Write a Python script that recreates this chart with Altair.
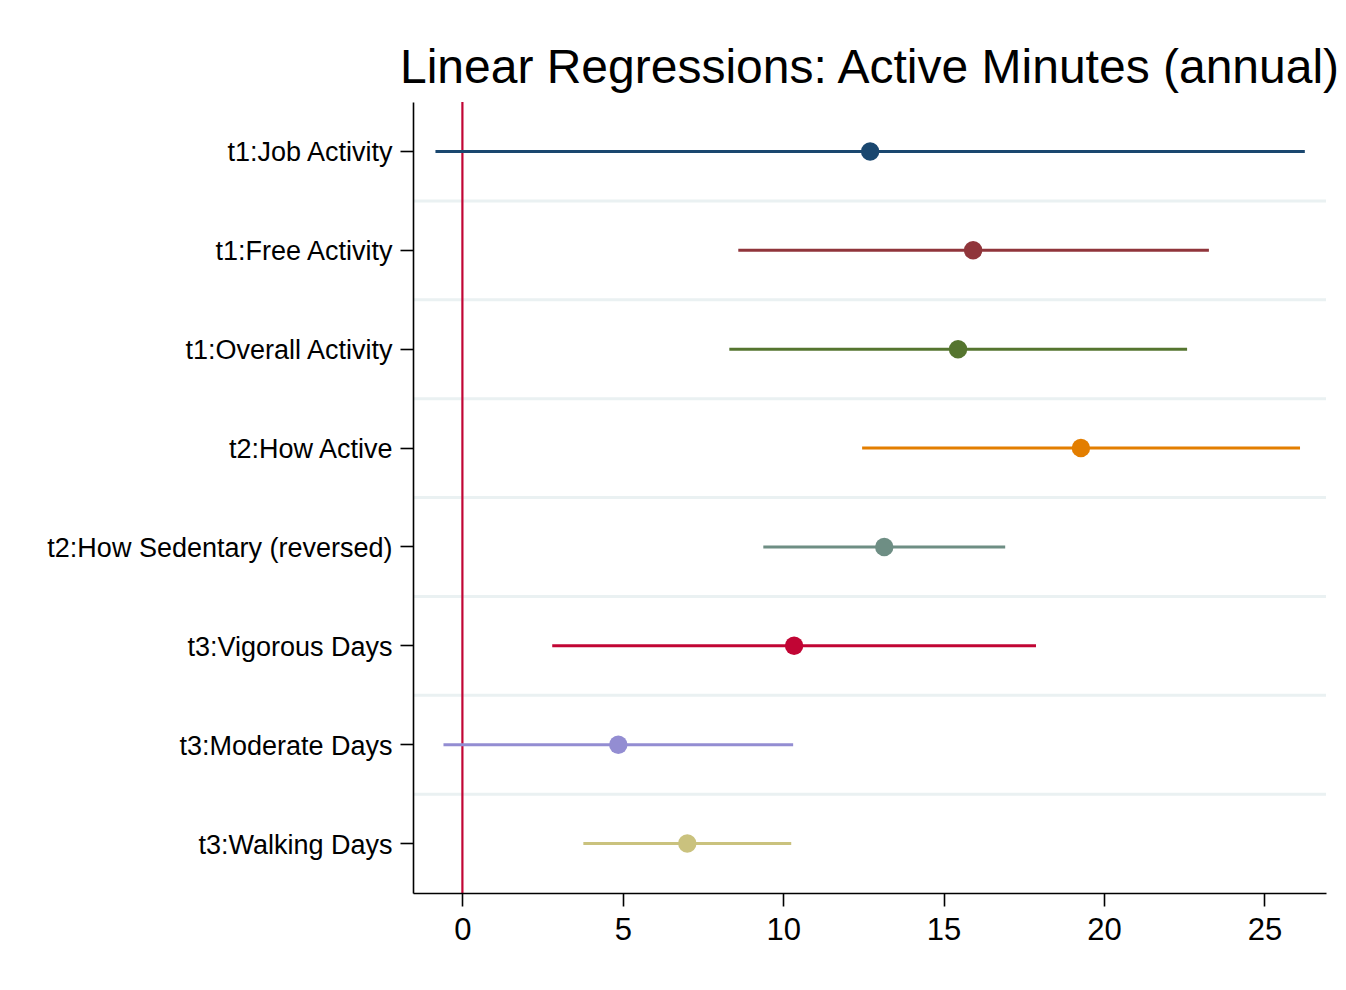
import altair as alt
import pandas as pd

labels = [
    "t1:Job Activity",
    "t1:Free Activity",
    "t1:Overall Activity",
    "t2:How Active",
    "t2:How Sedentary (reversed)",
    "t3:Vigorous Days",
    "t3:Moderate Days",
    "t3:Walking Days",
]
estimates = [12.71, 15.92, 15.45, 19.28, 13.15, 10.34, 4.86, 7.01]
ci_low = [-0.84, 8.60, 8.32, 12.46, 9.38, 2.80, -0.59, 3.77]
ci_high = [26.26, 23.27, 22.59, 26.11, 16.92, 17.88, 10.31, 10.25]
colors = ["#1a476f", "#90353b", "#55752f", "#e37e00",
          "#6e8e84", "#c10534", "#938dd2", "#cac27e"]
x_ticks = [0, 5, 10, 15, 20, 25]
x_domain = [-1.54, 26.92]
ref_value = [0]

df = pd.DataFrame({"label": labels, "est": estimates, "lo": ci_low, "hi": ci_high})
sep_df = pd.DataFrame({"label": labels[:-1]})
ref_df = pd.DataFrame({"v": ref_value})

FONT = "Liberation Sans"

yscale = alt.Scale(domain=labels, paddingInner=0, paddingOuter=0)
xscale = alt.Scale(domain=x_domain, nice=False, zero=False)
cscale = alt.Scale(domain=labels, range=colors)

y_enc = alt.Y(
    "label:N", scale=yscale, sort=labels, title=None,
    axis=alt.Axis(labelFontSize=27, labelFont=FONT, labelColor="black",
                  tickSize=13, tickColor="black", tickWidth=1.6,
                  domainColor="black", domainWidth=1.6, labelPadding=8,
                  labelOffset=2, grid=False, labelLimit=600, zindex=1),
)
x_enc = alt.X(
    "lo:Q", scale=xscale, title=None,
    axis=alt.Axis(values=x_ticks, labelFontSize=31, labelFont=FONT,
                  labelColor="black", tickSize=13, tickColor="black",
                  tickWidth=1.6, domainColor="black", domainWidth=1.6,
                  labelPadding=9, grid=False, format="d", zindex=1),
)

seps = alt.Chart(sep_df).mark_rule(color="#eaf1f2", strokeWidth=3).encode(
    y=alt.Y("label:N", scale=yscale, sort=labels, bandPosition=1, title=None),
)

ref = alt.Chart(ref_df).mark_rule(color="#c10534", strokeWidth=2.2).encode(
    x=alt.X("v:Q", scale=xscale, title=None),
)

bars = alt.Chart(df).mark_rule(strokeWidth=3).encode(
    y=y_enc,
    x=x_enc,
    x2="hi:Q",
    color=alt.Color("label:N", scale=cscale, legend=None),
)

pts = alt.Chart(df).mark_circle(size=340, opacity=1).encode(
    y=alt.Y("label:N", scale=yscale, sort=labels, title=None),
    x=alt.X("est:Q", scale=xscale, title=None),
    color=alt.Color("label:N", scale=cscale, legend=None),
)

chart = alt.layer(seps, ref, bars, pts).properties(
    width=913,
    height=791,
    background="white",
    autosize=alt.AutoSizeParams(type="none"),
    padding={"left": 413, "top": 102, "right": 20, "bottom": 97},
    title=alt.Title(
        "Linear Regressions: Active Minutes (annual)",
        fontSize=48, font=FONT, fontWeight="normal", color="black",
        anchor="middle", frame="group", offset=8,
    ),
).configure_view(strokeWidth=0, stroke=None)

chart.save("out.html", embed_options={"renderer": "svg", "actions": False})
